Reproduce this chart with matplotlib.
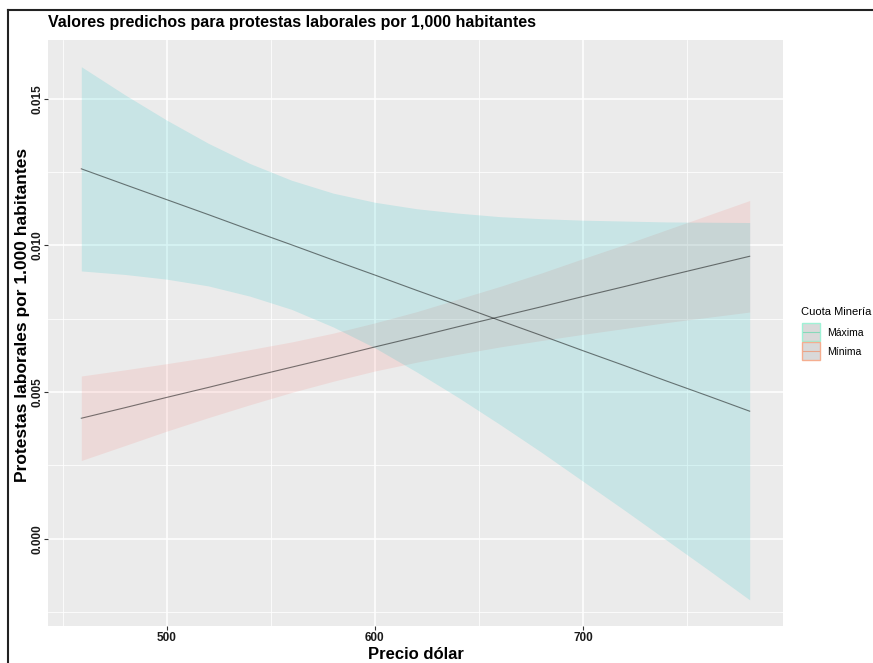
import matplotlib.pyplot as plt
import numpy as np
from matplotlib.patches import Rectangle
from matplotlib.lines import Line2D

plt.rcParams['font.family'] = ['Liberation Sans', 'DejaVu Sans']

# predicted values (dollar price grid) for each mining-share scenario
precio = [459, 480, 500, 520, 540, 560, 580, 600, 620, 640, 660, 680, 700, 720, 740, 760, 780]

max_fit = [0.01261, 0.01207, 0.01156, 0.01105, 0.01053, 0.01002, 0.00950, 0.00899, 0.00847,
           0.00796, 0.00744, 0.00693, 0.00641, 0.00590, 0.00538, 0.00487, 0.00435]
max_lo = [0.00913, 0.00901, 0.00885, 0.00862, 0.00827, 0.00782, 0.00722, 0.00651, 0.00569,
          0.00482, 0.00390, 0.00295, 0.00196, 0.00097, -0.00004, -0.00105, -0.00208]
max_hi = [0.01609, 0.01513, 0.01427, 0.01348, 0.01279, 0.01222, 0.01178, 0.01147, 0.01125,
          0.01110, 0.01098, 0.01091, 0.01086, 0.01083, 0.01080, 0.01079, 0.01078]

min_fit = [0.00411, 0.00447, 0.00482, 0.00516, 0.00551, 0.00585, 0.00619, 0.00654, 0.00688,
           0.00723, 0.00757, 0.00791, 0.00826, 0.00860, 0.00895, 0.00929, 0.00963]
min_lo = [0.00267, 0.00318, 0.00367, 0.00413, 0.00457, 0.00499, 0.00537, 0.00572, 0.00602,
          0.00629, 0.00654, 0.00676, 0.00697, 0.00717, 0.00737, 0.00755, 0.00773]
min_hi = [0.00555, 0.00576, 0.00597, 0.00619, 0.00645, 0.00671, 0.00701, 0.00736, 0.00774,
          0.00817, 0.00860, 0.00906, 0.00955, 0.01003, 0.01053, 0.01103, 0.01153]

grupos = ['Máxima', 'Mínima']
W, H = 873, 663

fig = plt.figure(figsize=(W / 100, H / 100), dpi=100)
ax = fig.add_axes([48 / W, 1 - 626 / H, 735 / W, (626 - 40) / H])
ax.set_facecolor('#EBEBEB')

ax.fill_between(precio, min_lo, min_hi, color='#F8766D', alpha=0.15, lw=0)
ax.fill_between(precio, max_lo, max_hi, color='#00BFC4', alpha=0.15, lw=0)
ax.plot(precio, max_fit, color='black', alpha=0.5, lw=0.8)
ax.plot(precio, min_fit, color='black', alpha=0.5, lw=0.8)

ax.set_xlim(443, 796)
ax.set_ylim(-0.00297, 0.0170)
ax.set_xticks([500, 600, 700])
ax.set_xticks([450, 550, 650, 750], minor=True)
ax.set_yticks([0.0, 0.005, 0.010, 0.015])
ax.set_yticks([-0.0025, 0.0025, 0.0075, 0.0125], minor=True)
ax.set_yticklabels(['0.000', '0.005', '0.010', '0.015'], rotation=90, va='center')
ax.grid(which='major', color='white', lw=1.1)
ax.grid(which='minor', color='white', lw=0.55)
ax.set_axisbelow(True)
for s in ax.spines.values():
    s.set_visible(False)
ax.tick_params(which='major', length=3, color='#333333', labelsize=8.5, labelcolor='#1a1a1a')
ax.tick_params(axis='x', pad=1.5)
ax.tick_params(axis='y', pad=0.5)
ax.tick_params(which='minor', length=0)
for lab in ax.get_xticklabels() + ax.get_yticklabels():
    lab.set_fontweight('bold')

ax.set_xlabel('Precio dólar', fontsize=12, fontweight='bold', labelpad=2)
ax.set_ylabel('Protestas laborales por 1.000 habitantes', fontsize=12.5, fontweight='bold')
ax.yaxis.set_label_coords(-18 / 735, 0.53)

fig.text(48 / W, 1 - 22 / H, 'Valores predichos para protestas laborales por 1,000 habitantes',
         fontsize=11.5, fontweight='bold', ha='left', va='center')

# legend drawn by hand
fig.text(801 / W, 1 - 312 / H, 'Cuota Minería', fontsize=8, ha='left', va='center')
bordes = ['#9FF2D6', '#F5AE90']
lineas = ['#86D9BA', '#E8A58A']
for i, g in enumerate(grupos):
    y0 = 323 + i * 19
    fig.add_artist(Rectangle((802 / W, 1 - (y0 + 18) / H), 18 / W, 18 / H,
                             facecolor='#D9D9D9', edgecolor=bordes[i], lw=1.0,
                             transform=fig.transFigure))
    fig.add_artist(Line2D([803 / W, 819 / W], [1 - (y0 + 9) / H] * 2, color=lineas[i],
                          lw=0.8, transform=fig.transFigure))
    fig.text(827 / W, 1 - (y0 + 10) / H, g, fontsize=7.5, ha='left', va='center')

# frame lines at left and top
fig.add_artist(Line2D([8 / W, 8 / W], [0, 1 - 10 / H], color='#222222', lw=1.5,
                      transform=fig.transFigure))
fig.add_artist(Line2D([8 / W, 1], [1 - 10 / H, 1 - 10 / H], color='#222222', lw=1.5,
                      transform=fig.transFigure))

fig.savefig('out.png', dpi=100)
